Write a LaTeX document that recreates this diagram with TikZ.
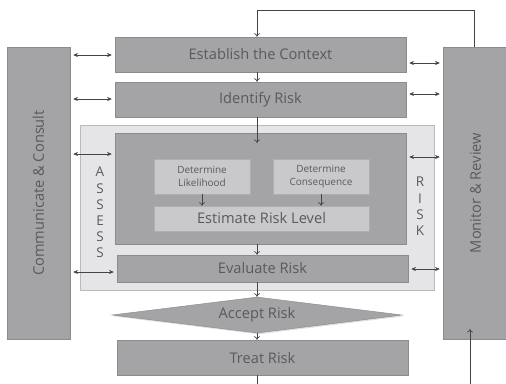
\documentclass[tikz,border=0pt]{standalone}
\usepackage{fontspec}
\setmainfont{Open Sans}
\usetikzlibrary{shapes,arrows.meta,positioning,shadows,calc}

\definecolor{boxgray}{HTML}{A4A4A7}
\definecolor{boxline}{HTML}{8C8C8F}
\definecolor{subgray}{HTML}{C9C9CB}
\definecolor{bggray}{HTML}{E5E5E7}
\definecolor{txtgray}{HTML}{5A5A5C}
\definecolor{arrgray}{HTML}{444446}

\tikzset{
    stepbox/.style={
        rectangle, draw=boxline, fill=boxgray,
        text=txtgray, font=\fontsize{12.5}{15}\selectfont,
        inner sep=0pt, align=center,
        drop shadow={opacity=0.25, shadow xshift=0.4mm, shadow yshift=-0.4mm}
    },
    subbox/.style={
        rectangle, draw=boxline!70, fill=subgray,
        text=txtgray, inner sep=0pt, align=center
    },
    arr/.style={draw=arrgray, semithick, -{To[length=3pt,width=5pt]}},
    dbl/.style={draw=arrgray, semithick, {Stealth[length=4pt,width=3.5pt]}-{Stealth[length=4pt,width=3.5pt]},
        shorten <=0.09cm, shorten >=0.09cm},
    letter/.style={text=txtgray, font=\fontsize{11.5}{13}\selectfont, inner sep=0pt}
}

\begin{document}
\begin{tikzpicture}[x=0.03cm, y=-0.03cm]
\useasboundingbox[fill=white] (0,0) rectangle (506,383);
\coordinate (axis) at (257,0);

% side columns
\node[stepbox, minimum width=1.89cm, minimum height=8.76cm] (comm) at (38.5,193)
    {\rotatebox{90}{Communicate \& Consult}};
\node[stepbox, minimum width=1.95cm, minimum height=8.76cm] (mon) at (475.5,193)
    {\rotatebox{90}{Monitor \& Review}};

% top steps
\node[stepbox, minimum width=8.73cm, minimum height=1.05cm] (ctx) at (260.5,54.5) {Establish the Context};
\node[stepbox, minimum width=8.73cm, minimum height=1.05cm] (ident) at (260.5,99.5) {Identify Risk};

% assess risk block
\node[rectangle, draw=boxline!60, fill=bggray, minimum width=10.62cm, minimum height=4.95cm,
    drop shadow={opacity=0.25, shadow xshift=0.4mm, shadow yshift=-0.4mm}] (assess) at (257,207.5) {};
\node[stepbox, minimum width=8.73cm, minimum height=3.33cm] (inner) at (260.5,188.5) {};
\node[subbox, minimum width=2.88cm, minimum height=1.05cm, font=\fontsize{8.5}{10.5}\selectfont] (like) at (202,176.5)
    {Determine\\Likelihood};
\node[subbox, minimum width=2.88cm, minimum height=1.05cm, font=\fontsize{8.5}{10.5}\selectfont] (cons) at (321,176.5)
    {Determine\\Consequence};
\node[subbox, minimum width=6.45cm, minimum height=0.75cm, font=\fontsize{12.5}{15}\selectfont] (est) at (261.5,218.5)
    {Estimate Risk Level};
\node[stepbox, minimum width=8.73cm, minimum height=0.81cm] (eval) at (262.5,268.5) {Evaluate Risk};

% vertical words
\foreach \ch [count=\i from 0] in {A,S,S,E,S,S}
    \node[letter] (as\i) at (100,172+16.2*\i) {\ch};
\foreach \ch [count=\i from 0] in {R,I,S,K}
    \node[letter] (rk\i) at (420,182+16.3*\i) {\ch};

% lower steps
\node[stepbox, diamond, aspect=8, minimum width=8.7cm, minimum height=1.08cm] (accept) at (257,315) {Accept Risk};
\node[stepbox, minimum width=8.73cm, minimum height=1.05cm] (treat) at (262.5,357.5) {Treat Risk};

% flow
\draw[arr] (ctx.south -| axis) -- (ident.north -| axis);
\draw[arr] (ident.south -| axis) -- (axis |- 0,143);
\draw[arr] (like) -- (like |- est.north);
\draw[arr] (cons) -- (cons |- est.north);
\draw[arr] (inner.south -| axis) -- (eval.north -| axis);
\draw[arr] (eval.south -| axis) -- (accept.north);
\draw[arr] (accept.south) -- (treat.north -| axis);
\coordinate (tout) at (axis |- 0,386);
\draw[arrgray, semithick] (treat.south -| axis) -- (tout);

% feedback loop
\draw[arr] (mon.north -| 474,0) -- (474,10) -| (ctx.north -| axis);
\coordinate (mbot) at (470,386);
\draw[arr] (mbot) -- (mbot |- 0,329);

% consult and review links
\draw[dbl] (comm.east |- 0,55) -- (ctx.west |- 0,55);
\draw[dbl] (comm.east |- 0,99) -- (ident.west |- 0,99);
\draw[dbl] (comm.east |- 0,154) -- (inner.west |- 0,154);
\draw[dbl] (comm.east |- 0,272) -- (eval.west |- 0,272);
\draw[dbl] (ctx.east |- 0,63) -- (mon.west |- 0,63);
\draw[dbl] (ident.east |- 0,94) -- (mon.west |- 0,94);
\draw[dbl] (inner.east |- 0,157) -- (mon.west |- 0,157);
\draw[dbl] (eval.east |- 0,269) -- (mon.west |- 0,269);
\end{tikzpicture}
\end{document}
